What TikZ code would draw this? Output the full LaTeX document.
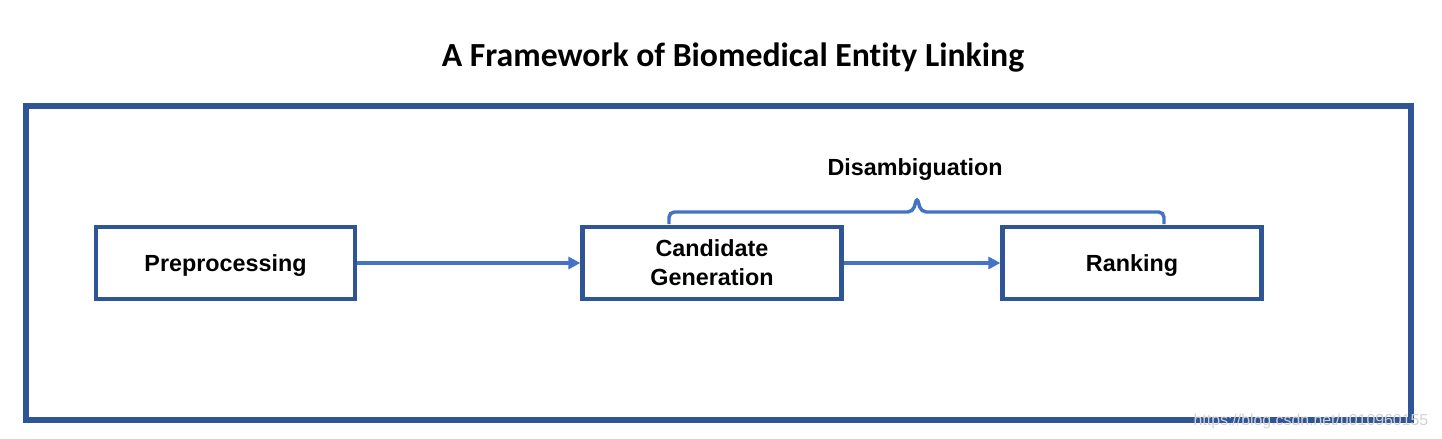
\documentclass[tikz,border=0pt]{standalone}
\usepackage{fontspec}
\setmainfont{Liberation Sans}
\newfontfamily\titlefont{Carlito}[Ligatures=NoCommon]
\usetikzlibrary{arrows.meta}
\definecolor{framecol}{HTML}{2F5597}
\definecolor{linkcol}{HTML}{4472C4}
\tikzset{
  stage/.style={draw=framecol, line width=3.4pt, minimum width=194pt, minimum height=54pt,
    inner sep=0pt, align=center, text depth=0pt,
    font=\fontsize{17.5}{21.75}\selectfont\bfseries},
  link/.style={draw=linkcol, line width=2.6pt, -{Triangle[length=9pt,width=9pt]}},
}
\begin{document}
\begin{tikzpicture}[x=0.75pt, y=-0.75pt]
  \useasboundingbox (0,0) rectangle (1442,439);

  \coordinate (bl) at (669, 224);
  \coordinate (br) at (1164, 224);
  \coordinate (tip) at (917, 197);

  \draw[framecol, line width=4.5pt] (26,106) rectangle (1411,420);
  \node (title) [anchor=base, font=\titlefont\fontsize{25.3}{30}\selectfont\bfseries]
    at (733, 66) {A Framework of Biomedical Entity Linking};

  \node (pre) [stage] at (225.5, 263) {Preprocessing};
  \node (cand) [stage] at (712, 263) {Candidate\\Generation};
  \node (rank) [stage] at (1132, 263) {Ranking};

  \draw[link] (pre) -- (cand);
  \draw[link] (cand) -- (rank);

  \draw[linkcol, line width=2.6pt, rounded corners=4pt]
    (bl) |- (913, 212) -- (tip) -- (921, 212) -| (br);
  \node (dis) [anchor=base, font=\fontsize{17.5}{21}\selectfont\bfseries]
    at (915, 175) {Disambiguation};

  \node (mark) [anchor=base east, text=gray!35, font=\fontsize{11.9}{14}\selectfont]
    at (1433, 425) {https://blog.csdn.net/u010960155};
\end{tikzpicture}
\end{document}
